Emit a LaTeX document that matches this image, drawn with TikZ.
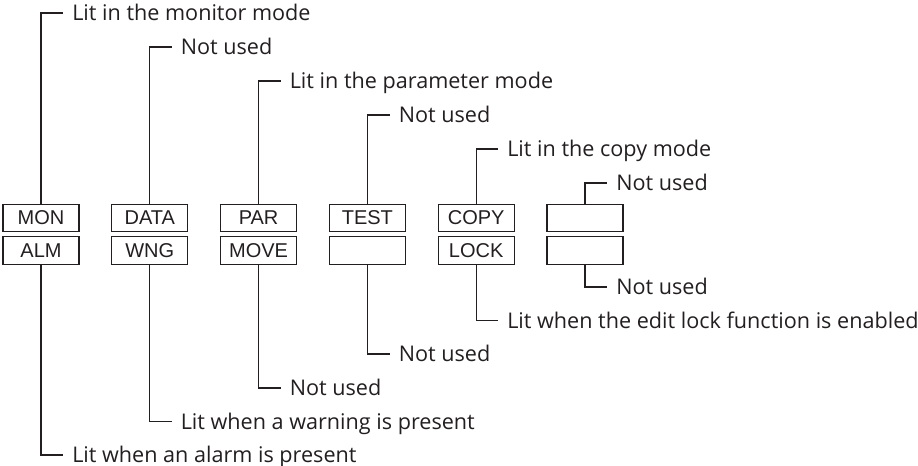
\documentclass[tikz,border=0pt]{standalone}
\usepackage{fontspec}
\setmainfont{Open Sans}
\newfontfamily\lampfont{Liberation Sans}
\usetikzlibrary{positioning}
\definecolor{inkMain}{RGB}{35, 31, 32}

\begin{document}
\begin{tikzpicture}[
    x=0.75pt, y=-0.75pt,
    node distance=2.95pt and 23.8pt,
    lamp/.style={rectangle, draw=inkMain, text=inkMain, minimum width=57pt, minimum height=20.6pt, inner sep=0pt, line width=0.8pt, font=\lampfont\fontsize{15}{17}\selectfont},
    note/.style={anchor=west, inner xsep=6.75pt, inner ysep=0pt, text height=11.5pt, text depth=0pt, text=inkMain, font=\fontsize{16.2}{19}\selectfont},
    lead/.style={draw=inkMain, line width=0.8pt}
  ]
    \useasboundingbox (0,0) rectangle (918,466);

    % Upper row of lamps
    \node[lamp] at (41,218) (mon) {MON};
    \node[lamp, right=of mon] (data) {DATA};
    \node[lamp, right=of data] (par) {PAR};
    \node[lamp, right=of par] (test) {TEST};
    \node[lamp, right=of test] (copy) {COPY};
    \node[lamp, right=of copy] (spareA) {};

    % Lower row of lamps
    \node[lamp, below=of mon] (alm) {ALM};
    \node[lamp, below=of data] (wng) {WNG};
    \node[lamp, below=of par] (move) {MOVE};
    \node[lamp, below=of test] (spareB) {};
    \node[lamp, below=of copy] (lock) {LOCK};
    \node[lamp, below=of spareA] (spareC) {};

    % Notes above
    \node[note] at (63,13) (nMon) {Lit in the monitor mode};
    \node[note] at (171.5,47) (nData) {Not used};
    \node[note] at (280.5,81) (nPar) {Lit in the parameter mode};
    \node[note] at (389.5,115) (nTest) {Not used};
    \node[note] at (498,149) (nCopy) {Lit in the copy mode};
    \node[note] at (607,183) (nSpareA) {Not used};

    % Notes below
    \node[note] at (607,287) (nSpareC) {Not used};
    \node[note] at (498,320.5) (nLock) {Lit when the edit lock function is enabled};
    \node[note] at (389.5,354) (nSpareB) {Not used};
    \node[note] at (280.5,388) (nMove) {Not used};
    \node[note] at (171.5,421.5) (nWng) {Lit when a warning is present};
    \node[note] at (63,455) (nAlm) {Lit when an alarm is present};

    % Leader lines
    \draw[lead] (mon.north) |- (nMon.west);
    \draw[lead] (data.north) |- (nData.west);
    \draw[lead] (par.north) |- (nPar.west);
    \draw[lead] (test.north) |- (nTest.west);
    \draw[lead] (copy.north) |- (nCopy.west);
    \draw[lead] (spareA.north) |- (nSpareA.west);
    \draw[lead] (spareC.south) |- (nSpareC.west);
    \draw[lead] (lock.south) |- (nLock.west);
    \draw[lead] (spareB.south) |- (nSpareB.west);
    \draw[lead] (move.south) |- (nMove.west);
    \draw[lead] (wng.south) |- (nWng.west);
    \draw[lead] (alm.south) |- (nAlm.west);
  \end{tikzpicture}
\end{document}
